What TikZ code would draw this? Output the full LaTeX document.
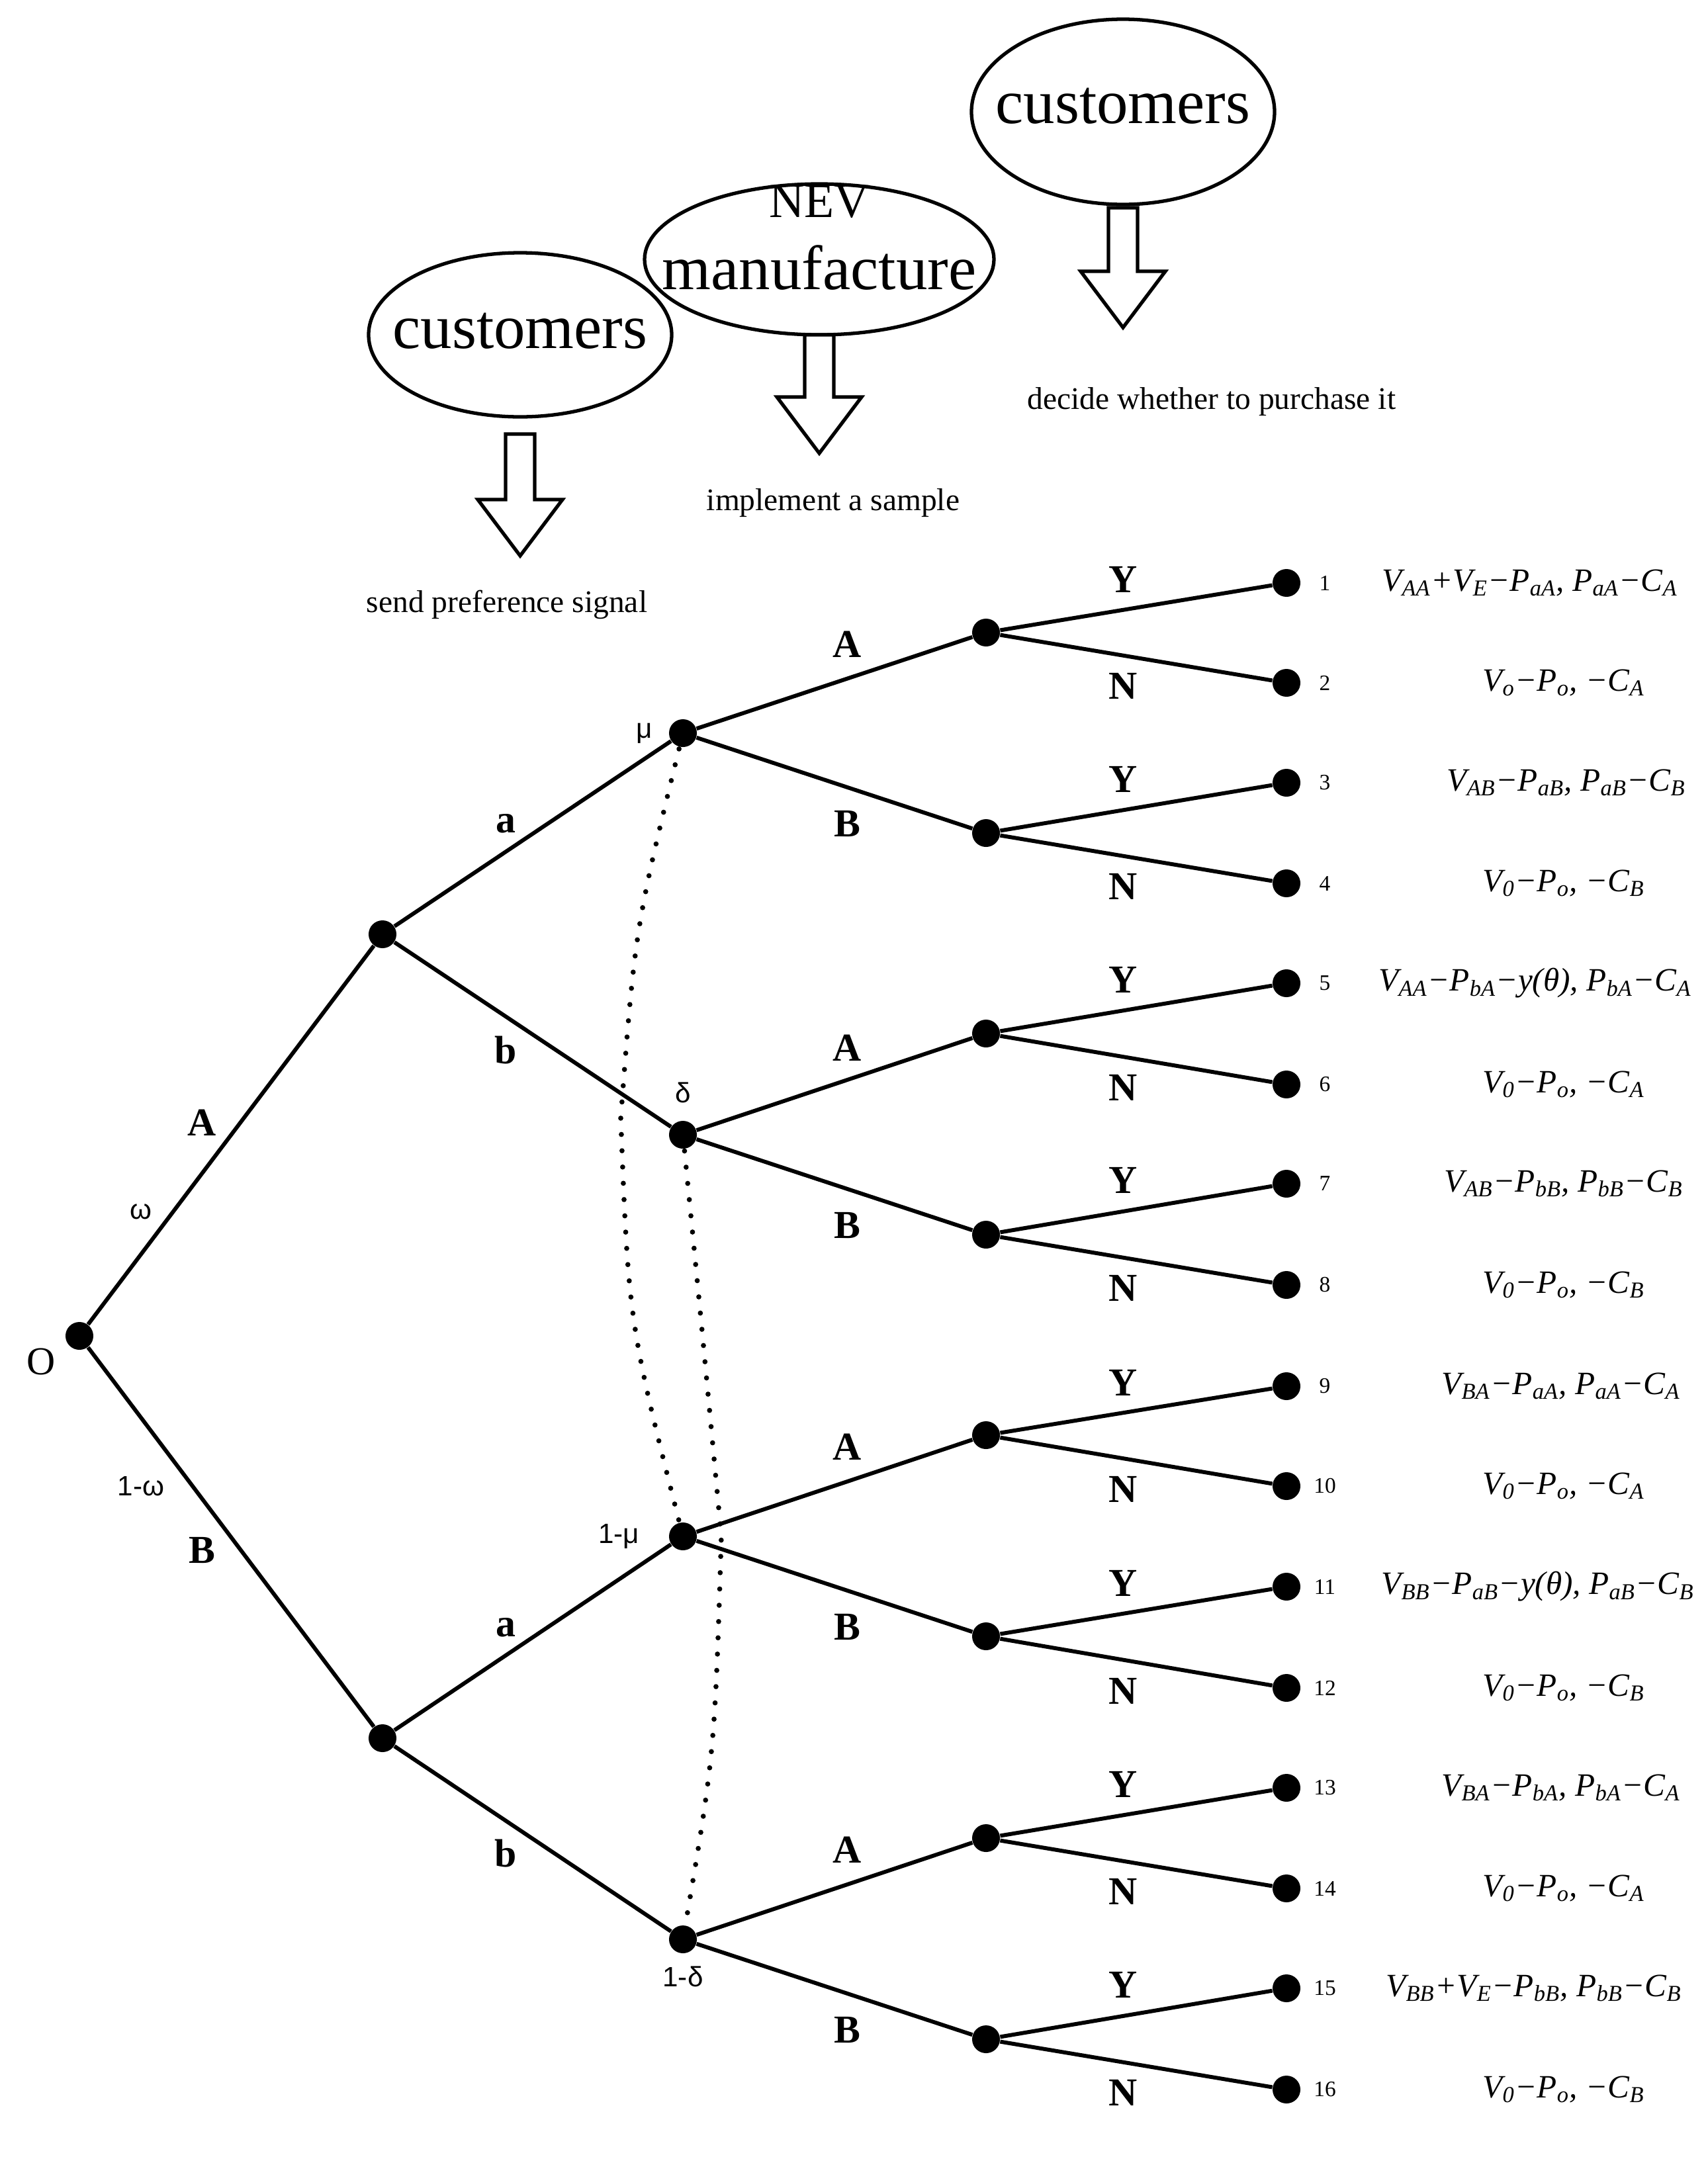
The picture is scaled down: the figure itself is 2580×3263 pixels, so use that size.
\documentclass[tikz,border=0pt]{standalone}
\usepackage{fontspec}
\usetikzlibrary{calc}
\setmainfont{Liberation Serif}
\newfontfamily\sff{Liberation Sans}
\newcommand{\sbx}[1]{\textsubscript{#1}}
\begin{document}
\begin{tikzpicture}[x=0.01cm,y=-0.01cm,
 dot/.style={circle,fill=black,inner sep=0pt,minimum size=0.42cm},
 edge/.style={line width=1.7pt},
 blbl/.style={font=\fontsize{17}{19}\selectfont\bfseries},
 glbl/.style={font=\sff\fontsize{12}{14}\selectfont},
 num/.style={font=\fontsize{9.5}{11}\selectfont},
 pay/.style={font=\fontsize{14}{16}\selectfont\itshape},
 big/.style={font=\fontsize{27}{30}\selectfont},
 info/.style={line width=2.2pt,line cap=round,dash pattern=on 0pt off 7pt},
 captxt/.style={font=\fontsize{13.5}{16}\selectfont}]
\useasboundingbox (0,0) rectangle (2580,3263);
% top ellipses
\draw[line width=1.5pt] (786,506) ellipse [x radius=229,y radius=124];
\node[big] (c1) at (786,500) {customers};
\draw[line width=1.5pt] (1238,392) ellipse [x radius=264,y radius=114];
\node[font=\fontsize{21}{24}\selectfont] (nev) at (1238,305) {NEV};
\node[big] (man) at (1238,405) {manufacture};
\draw[line width=1.5pt] (1697,169) ellipse [x radius=229,y radius=140];
\node[big] (c2) at (1697,160) {customers};
% hollow arrows
\foreach \x/\t/\b in {786/656/840,1238/506/685,1697/314/495}{
 \draw[line width=1.5pt,fill=white] (\x-22,\t) -- (\x+22,\t) -- (\x+22,\b-85) -- (\x+64,\b-85) -- (\x,\b) -- (\x-64,\b-85) -- (\x-22,\b-85) -- cycle;}
\node[captxt] (t1) at (766,914) {send preference signal};
\node[captxt] (t2) at (1259,760) {implement a sample};
\node[captxt] (t3) at (1831,607) {decide whether to purchase it};
% tree nodes
\node[dot] (O) at (120,2019) {};
\node[dot] (nA) at (578,1412) {};
\node[dot] (nB) at (578,2627) {};
\node[dot] (m1) at (1032,1108) {};
\node[dot] (m2) at (1032,1715) {};
\node[dot] (m3) at (1032,2322) {};
\node[dot] (m4) at (1032,2931) {};
\foreach \i/\y in {1/956,2/1259,3/1562,4/1866,5/2169,6/2473,7/2778,8/3082}{\node[dot] (k\i) at (1490,\y) {};}
\foreach \i/\y in {1/881,2/1032,3/1183,4/1335,5/1486,6/1639,7/1789,8/1942,9/2095,10/2246,11/2398,12/2551,13/2702,14/2854,15/3005,16/3158}{
 \node[dot] (l\i) at (1944,\y) {};
 \node[num] (n\i) at (2002,\y) {\i};}
% edges
\draw[edge] (O)--(nA); \draw[edge] (O)--(nB);
\draw[edge] (nA)--(m1); \draw[edge] (nA)--(m2);
\draw[edge] (nB)--(m3); \draw[edge] (nB)--(m4);
\draw[edge] (m1)--(k1); \draw[edge] (m1)--(k2);
\draw[edge] (m2)--(k3); \draw[edge] (m2)--(k4);
\draw[edge] (m3)--(k5); \draw[edge] (m3)--(k6);
\draw[edge] (m4)--(k7); \draw[edge] (m4)--(k8);
\foreach \k in {1,...,8}{
 \pgfmathtruncatemacro\a{2*\k-1}\pgfmathtruncatemacro\b{2*\k}
 \draw[edge] (k\k)--(l\a); \draw[edge] (k\k)--(l\b);
 \node[blbl] (Y\k) at ($(l\a)+(-247,-5)$) {Y};
 \node[blbl] (N\k) at ($(l\b)+(-247,5)$) {N};}
% information sets
\coordinate (d1) at (938,1690);
\coordinate (d2) at (1090,2322);
\draw[info] (m1.center) .. controls (960,1400) .. (d1) .. controls (950,2000) .. (m3.center);
\draw[info] (m2.center) .. controls (1060,2000) .. (d2) .. controls (1080,2650) .. (m4.center);
% labels
\node[font=\fontsize{17}{19}\selectfont] (Ol) at (62,2058) {O};
\node[blbl] (LA) at (305,1697) {A};
\node[glbl] (Lw) at (213,1831) {ω};
\node[glbl] (Lw2) at (213,2246) {1-ω};
\node[blbl] (LB) at (305,2343) {B};
\node[blbl] (La1) at (764,1245) {a};
\node[blbl] (Lb1) at (764,1587) {b};
\node[blbl] (La2) at (764,2460) {a};
\node[blbl] (Lb2) at (764,2801) {b};
\node[glbl] (Lmu) at (974,1108) {μ};
\node[glbl] (Ld) at (1032,1651) {δ};
\node[glbl] (Lmu2) at (935,2322) {1-μ};
\node[glbl] (Ld2) at (1032,2987) {1-δ};
\foreach \k/\ya/\yb in {1/974/1245,2/1584/1852,3/2187/2459,4/2796/3068}{
 \node[blbl] (A\k) at (1280,\ya) {A};
 \node[blbl] (B\k) at (1280,\yb) {B};}
% payoffs
\node[pay] (p1) at (2312,881) {V\sbx{AA}+V\sbx{E}−P\sbx{aA}, P\sbx{aA}−C\sbx{A}};
\node[pay] (p2) at (2363,1032) {V\sbx{o}−P\sbx{o}, −C\sbx{A}};
\node[pay] (p3) at (2367,1183) {V\sbx{AB}−P\sbx{aB}, P\sbx{aB}−C\sbx{B}};
\node[pay] (p4) at (2363,1335) {V\sbx{0}−P\sbx{o}, −C\sbx{B}};
\node[pay] (p5) at (2320,1486) {V\sbx{AA}−P\sbx{bA}−y(θ), P\sbx{bA}−C\sbx{A}};
\node[pay] (p6) at (2363,1639) {V\sbx{0}−P\sbx{o}, −C\sbx{A}};
\node[pay] (p7) at (2363,1789) {V\sbx{AB}−P\sbx{bB}, P\sbx{bB}−C\sbx{B}};
\node[pay] (p8) at (2363,1942) {V\sbx{0}−P\sbx{o}, −C\sbx{B}};
\node[pay] (p9) at (2359,2095) {V\sbx{BA}−P\sbx{aA}, P\sbx{aA}−C\sbx{A}};
\node[pay] (p10) at (2363,2246) {V\sbx{0}−P\sbx{o}, −C\sbx{A}};
\node[pay] (p11) at (2324,2398) {V\sbx{BB}−P\sbx{aB}−y(θ), P\sbx{aB}−C\sbx{B}};
\node[pay] (p12) at (2363,2551) {V\sbx{0}−P\sbx{o}, −C\sbx{B}};
\node[pay] (p13) at (2359,2702) {V\sbx{BA}−P\sbx{bA}, P\sbx{bA}−C\sbx{A}};
\node[pay] (p14) at (2363,2854) {V\sbx{0}−P\sbx{o}, −C\sbx{A}};
\node[pay] (p15) at (2318,3005) {V\sbx{BB}+V\sbx{E}−P\sbx{bB}, P\sbx{bB}−C\sbx{B}};
\node[pay] (p16) at (2363,3158) {V\sbx{0}−P\sbx{o}, −C\sbx{B}};
\end{tikzpicture}
\end{document}
